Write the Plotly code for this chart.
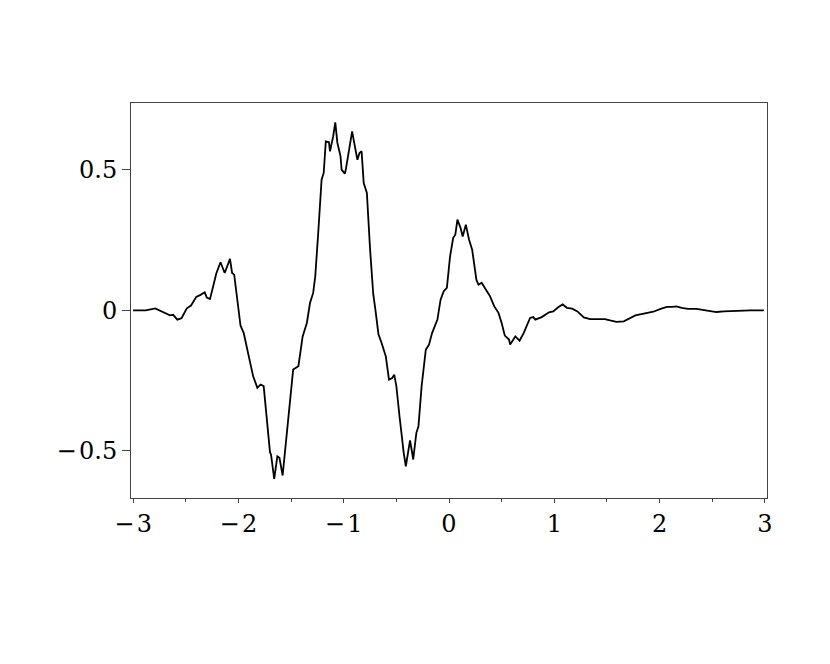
import plotly.graph_objs as go

# curve
x = [-3.0, -2.88, -2.79, -2.71, -2.65, -2.62, -2.58, -2.54, -2.52, -2.49,
     -2.45, -2.40, -2.36, -2.32, -2.30, -2.27, -2.24, -2.21, -2.17, -2.13,
     -2.08, -2.06, -2.04, -1.98, -1.95, -1.89, -1.86, -1.82, -1.79, -1.76,
     -1.70, -1.69, -1.66, -1.63, -1.61, -1.58, -1.55, -1.52, -1.48, -1.43,
     -1.39, -1.35, -1.32, -1.29, -1.27, -1.24, -1.21, -1.19, -1.17, -1.14,
     -1.13, -1.10, -1.08, -1.06, -1.03, -1.02, -0.99, -0.98, -0.95, -0.92,
     -0.90, -0.87, -0.85, -0.83, -0.81, -0.78, -0.75, -0.72, -0.70, -0.67,
     -0.64, -0.60, -0.57, -0.54, -0.52, -0.50, -0.47, -0.45, -0.43, -0.41,
     -0.39, -0.37, -0.35, -0.34, -0.31, -0.29, -0.26, -0.22, -0.19, -0.16,
     -0.11, -0.08, -0.05, -0.02, 0.01, 0.04, 0.06, 0.08, 0.11, 0.13,
     0.16, 0.19, 0.22, 0.26, 0.28, 0.31, 0.36, 0.39, 0.43, 0.47,
     0.50, 0.53, 0.57, 0.58, 0.61, 0.63, 0.67, 0.71, 0.77, 0.80,
     0.82, 0.88, 0.95, 0.99, 1.04, 1.08, 1.12, 1.17, 1.22, 1.28,
     1.34, 1.41, 1.48, 1.53, 1.59, 1.66, 1.72, 1.77, 1.85, 1.94,
     2.01, 2.07, 2.12, 2.16, 2.21, 2.27, 2.35, 2.45, 2.54, 2.61,
     2.73, 2.86, 2.99]
y = [0.0, 0.0, 0.007, -0.009, -0.018, -0.016, -0.033, -0.028, -0.015, 0.007,
     0.017, 0.048, 0.055, 0.064, 0.045, 0.040, 0.085, 0.131, 0.171, 0.133,
     0.183, 0.133, 0.127, -0.054, -0.080, -0.187, -0.235, -0.276, -0.264, -0.270,
     -0.505, -0.514, -0.600, -0.520, -0.525, -0.588, -0.472, -0.353, -0.211, -0.199,
     -0.093, -0.045, 0.026, 0.062, 0.121, 0.287, 0.465, 0.489, 0.601, 0.598,
     0.566, 0.619, 0.669, 0.596, 0.548, 0.501, 0.486, 0.501, 0.566, 0.637,
     0.596, 0.536, 0.560, 0.566, 0.453, 0.418, 0.220, 0.060, 0.005, -0.085,
     -0.116, -0.164, -0.247, -0.241, -0.229, -0.270, -0.377, -0.448, -0.507, -0.555,
     -0.507, -0.463, -0.507, -0.531, -0.436, -0.413, -0.270, -0.140, -0.122, -0.080,
     -0.033, 0.038, 0.068, 0.080, 0.192, 0.258, 0.269, 0.323, 0.293, 0.263,
     0.305, 0.252, 0.216, 0.109, 0.091, 0.098, 0.068, 0.050, 0.014, -0.009,
     -0.045, -0.090, -0.104, -0.122, -0.105, -0.093, -0.108, -0.080, -0.027, -0.024,
     -0.033, -0.024, -0.007, -0.004, 0.012, 0.021, 0.009, 0.006, -0.004, -0.025,
     -0.031, -0.031, -0.031, -0.036, -0.041, -0.039, -0.027, -0.018, -0.012, -0.005,
     0.005, 0.012, 0.012, 0.014, 0.009, 0.005, 0.005, 0.0, -0.006, -0.004,
     -0.001, 0.0, 0.0]

xticks = [-3, -2, -1, 0, 1, 2, 3]
xticklabels = ['\u2212\u200a3', '\u2212\u200a2', '\u2212\u200a1', '0', '1', '2', '3']
yticks = [-0.5, 0, 0.5]
yticklabels = ['\u2212\u200a0.5', '0', '0.5']

trace = go.Scatter(
    x = x,
    y = y,
    mode = 'lines',
    line = dict(color='black', width=1.8),
    showlegend = False
)

layout = go.Layout(
    width = 822,
    height = 656,
    margin = dict(l=123, r=63, t=95, b=166),
    paper_bgcolor = 'white',
    plot_bgcolor = 'white',
    font = dict(family='DejaVu Serif', size=24, color='black'),
    xaxis = dict(
        range = [-3.02, 3.02],
        tickvals = xticks,
        ticktext = xticklabels,
        ticks = 'outside',
        ticklen = 4,
        tickcolor = '#444',
        showline = True,
        linecolor = '#444',
        linewidth = 1,
        mirror = True,
        showgrid = False,
        zeroline = False,
        minor = dict(dtick=0.5, ticks='outside', ticklen=3, tickcolor='#444', showgrid=False),
    ),
    yaxis = dict(
        range = [-0.668, 0.738],
        tickvals = yticks,
        ticktext = yticklabels,
        ticks = 'outside',
        ticklen = 8,
        tickcolor = '#444',
        showline = True,
        linecolor = '#444',
        linewidth = 1,
        mirror = True,
        showgrid = False,
        zeroline = False,
    ),
)

fig = go.Figure(data=[trace], layout=layout)
fig.write_html("out.html")
